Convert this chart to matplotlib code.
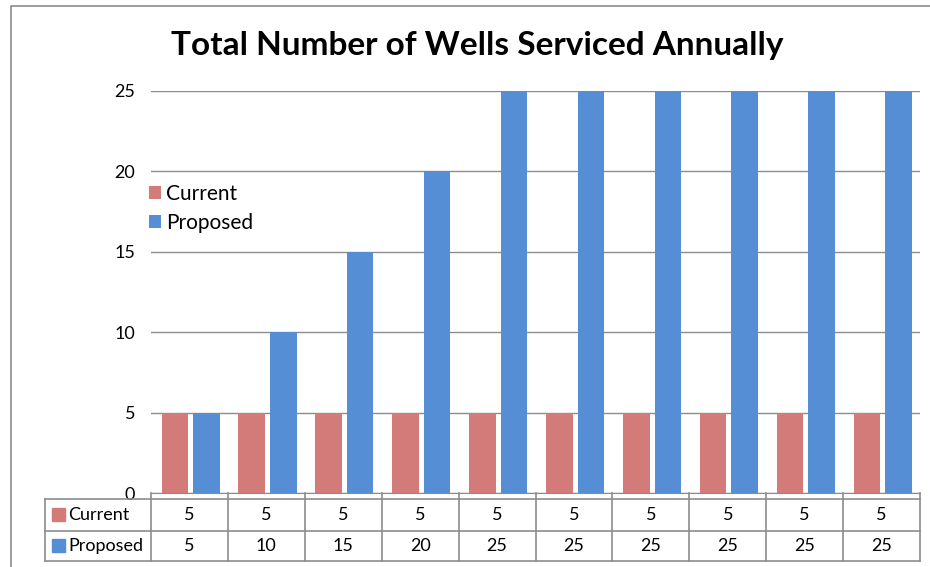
import numpy as np
import matplotlib
matplotlib.use('Agg')
import matplotlib.pyplot as plt
from matplotlib.lines import Line2D
from matplotlib.patches import Rectangle

plt.rcParams['font.family'] = ['Lato', 'DejaVu Sans']

# ------------------------------------------------------------------ data
series = ['Current', 'Proposed']
current = [5, 5, 5, 5, 5, 5, 5, 5, 5, 5]
proposed = [5, 10, 15, 20, 25, 25, 25, 25, 25, 25]
colors = ['#D27B79', '#558ED5']
yticks = [0, 5, 10, 15, 20, 25]

W, H = 930, 567
fig = plt.figure(figsize=(W / 100, H / 100), dpi=100)


def fx(x):
    return x / W


def fy(y):
    return 1 - y / H


# plot area in pixels
x0, x1, ytop, ybot = 151, 920, 91, 493
ax = fig.add_axes([fx(x0), fy(ybot), fx(x1) - fx(x0), fy(ytop) - fy(ybot)])
n = len(current)
xs = np.arange(n)
bw = 0.345
ax.bar(xs - 0.19, current, bw, color=colors[0], zorder=3, label=series[0])
ax.bar(xs + 0.22, proposed, bw, color=colors[1], zorder=3, label=series[1])
ax.set_xlim(-0.5, n - 0.5)
ax.set_ylim(0, 25)
ax.set_yticks(yticks)
ax.set_xticks([])
ax.yaxis.grid(True, color='#8c8c8c', lw=1.0, zorder=0)
for s in ('left', 'right', 'top'):
    ax.spines[s].set_visible(False)
ax.spines['bottom'].set_color('#8c8c8c')
ax.tick_params(axis='y', length=0, pad=11.5, labelsize=13)
ax.legend(loc='upper left', bbox_to_anchor=(-0.014, 0.79), frameon=False,
          fontsize=15, handlelength=0.6, handleheight=0.6,
          handletextpad=0.25, labelspacing=0.45, borderaxespad=0)

fig.text(fx(477), fy(46), 'Total Number of Wells Serviced Annually',
         ha='center', va='center', fontsize=24, fontweight='bold')

# chart border (left and top visible)
fig.add_artist(Line2D([fx(11), fx(11), 1.0], [0.0, fy(6), fy(6)],
                      color='#8c8c8c', lw=1.2))

# ------------------------------------------------------------------ data table
tc = '#8c8c8c'
hx0 = 45
r0, r1, r2 = 499, 531, 561
colw = (x1 - x0) / n
lines = [
    ([hx0, x1], [r0, r0]),
    ([hx0, x1], [r1, r1]),
    ([hx0, x1], [r2, r2]),
    ([hx0, hx0], [r0, r2]),
]
for i in range(n + 1):
    xx = x0 + i * colw
    lines.append(([xx, xx], [ybot, r2]))
for lx, ly in lines:
    fig.add_artist(Line2D([fx(v) for v in lx], [fy(v) for v in ly],
                          color=tc, lw=1.2))

rows = [current, proposed]
for j, (name, vals) in enumerate(zip(series, rows)):
    yc = (r0 + r1) / 2 if j == 0 else (r1 + r2) / 2
    fig.add_artist(Rectangle((fx(52), fy(yc + 6)), fx(13), fy(0) - fy(13),
                             color=colors[j]))
    fig.text(fx(68), fy(yc), name, ha='left', va='center', fontsize=13)
    for i, v in enumerate(vals):
        fig.text(fx(x0 + (i + 0.5) * colw), fy(yc), str(v), ha='center',
                 va='center', fontsize=13)

fig.savefig('out.png', dpi=100)
